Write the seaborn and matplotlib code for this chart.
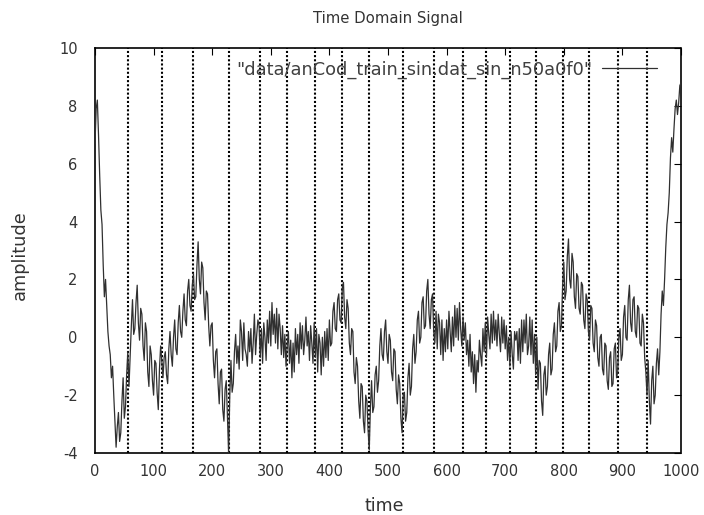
import matplotlib
matplotlib.use("Agg")
import matplotlib.pyplot as plt
import seaborn as sns
import pandas as pd

# ---- data -----------------------------------------------------------
time = list(range(0, 1001, 2))
amplitude = [
    6.7, 7.9, 8.2, 7.0, 5.6, 4.4, 3.9, 2.5, 1.4, 2.0,
    1.1, 0.2, -0.3, -0.6, -1.4, -1.0, -2.0, -2.9, -3.8, -3.1,
    -2.6, -3.6, -3.3, -2.2, -1.4, -2.8, -2.4, -1.3, -0.5, -1.7,
    -0.6, 0.4, 1.3, 0.1, 0.3, 1.2, 1.8, 0.5, -0.1, 1.0,
    0.8, -0.3, -0.8, 0.5, 0.2, -1.2, -1.7, -0.3, -0.6, -1.5,
    -2.0, -0.8, -0.9, -1.9, -2.5, -1.1, -0.3, -0.8, -1.4, -0.7,
    -0.5, -1.3, -1.6, -0.4, 0.2, -0.6, -1.0, 0.0, 0.6, -0.4,
    -0.6, 0.5, 1.1, 0.2, 0.0, 0.9, 1.5, 0.6, 0.4, 1.6,
    2.0, 1.1, 0.9, 1.8, 2.2, 1.3, 1.4, 2.5, 3.3, 2.0,
    1.5, 2.6, 2.4, 1.2, 0.6, 1.6, 1.5, 0.4, -0.3, 0.4,
    0.5, -0.8, -1.4, -0.5, -0.4, -1.6, -2.3, -1.2, -1.1, -2.5,
    -2.9, -1.8, -1.5, -2.8, -4.0, -2.0, -0.8, -1.9, -1.6, -0.5,
    0.1, -0.9, -0.3, -1.1, 0.6, 0.2, -0.8, 0.5, -0.4, -0.6,
    -1.0, 0.2, -0.5, 0.3, -0.9, -0.2, 0.8, -0.6, 0.1, 0.6,
    0.4, -0.7, 0.3, -0.9, 0.5, 0.0, -0.8, 0.6, -0.2, 0.9,
    -0.3, 1.2, 0.1, 0.8, -0.2, 1.0, -0.4, 0.8, 0.3, -0.6,
    0.4, -0.7, 0.1, -1.0, -0.3, 0.2, -0.9, -0.1, -1.4, -0.2,
    -1.2, 0.3, -0.6, 0.1, -0.9, 0.5, -0.4, 0.4, -0.6, -0.1,
    0.7, -0.3, 0.2, -0.8, 0.4, -0.2, -0.9, 0.5, -0.7, 0.3,
    -1.2, 0.1, -0.2, -1.3, 0.0, -1.0, 0.2, -0.7, 0.3, -0.8,
    0.6, -0.3, -0.2, 0.9, 1.2, 0.3, 0.2, 1.3, 1.5, 0.6,
    0.5, 1.7, 1.9, 0.7, 0.3, 1.3, 1.0, -0.2, -0.6, 0.3,
    0.2, -1.2, -1.6, -0.7, -1.0, -2.2, -2.8, -1.6, -1.7, -2.9,
    -3.3, -2.0, -2.2, -3.2, -3.9, -2.4, -1.5, -2.6, -2.4, -1.3,
    -1.0, -1.9, -1.5, -0.3, 0.3, -0.6, -0.8, 0.2, 0.6, -0.5,
    -0.9, 0.1, -0.1, -1.2, -1.5, -0.4, -0.5, -1.8, -2.3, -1.3,
    -1.6, -2.8, -3.3, -2.0, -1.9, -2.9, -2.6, -1.4, -0.9, -2.0,
    -1.7, -0.4, 0.1, -0.9, -0.5, 0.6, 0.9, -0.2, 0.0, 1.2,
    1.4, 0.3, 0.4, 1.6, 2.0, 0.8, 0.3, 1.3, 1.5, 0.2,
    -0.2, 0.9, -0.4, 0.8, 0.5, -0.6, 0.6, -0.8, 0.3, -0.5,
    0.6, -0.4, 0.9, 0.2, -0.5, 0.7, -0.3, 1.1, 0.0, 1.0,
    -0.1, 1.2, 0.3, -0.3, 0.7, -0.1, 0.5, -0.6, -0.1, -1.0,
    0.1, -1.2, -0.5, -1.6, -0.6, -1.9, -0.8, -1.2, -0.1, -0.6,
    -1.0, 0.3, -0.5, 0.5, -0.7, 0.7, 0.1, -0.4, 0.8, -0.2,
    0.9, -0.1, 0.6, -0.3, 0.8, 0.1, -0.5, 0.7, -0.2, 0.6,
    -0.4, 0.4, -0.8, 0.0, -1.0, 0.2, -0.6, -1.1, 0.2, -0.1,
    0.2, -0.8, 0.3, -0.9, 0.6, -0.5, 0.6, -0.2, 0.8, -0.6,
    -0.3, 0.7, -0.6, 0.6, -0.9, 0.1, -1.3, 0.0, -1.8, -0.8,
    -0.9, -2.2, -2.7, -1.3, -1.0, -2.0, -1.7, -0.6, -0.2, -1.3,
    -1.1, 0.1, 0.5, -0.5, -0.3, 0.9, 1.2, 0.2, 0.4, 1.8,
    2.6, 1.3, 1.6, 2.8, 3.4, 2.0, 1.7, 2.9, 2.6, 1.4,
    1.0, 2.2, 2.1, 1.0, 0.8, 1.9, 1.8, 0.6, 0.3, 1.5,
    1.3, 0.2, -0.1, 1.1, 1.0, -0.2, -0.5, 0.6, 0.4, -0.7,
    -1.0, 0.0, 0.1, -1.1, -1.3, -0.2, -0.3, -1.5, -1.8, -0.7,
    -0.5, -1.7, -1.6, -0.4, -0.2, -1.4, -1.2, 0.0, 0.3, -0.8,
    -0.6, 0.7, 1.1, 0.0, -0.1, 1.3, 1.8, 0.5, 0.2, 1.3,
    1.4, 0.2, 0.0, 1.1, 1.0, -0.2, -0.3, 0.8, 0.5, -0.7,
    -1.2, -2.0, -0.8, -2.2, -3.0, -1.5, -1.0, -2.3, -2.0, -0.9,
    -0.4, -1.3, -0.5, 0.8, 1.6, 1.1, 2.0, 3.1, 3.9, 4.3,
    5.0, 6.2, 6.9, 6.4, 7.2, 7.9, 8.2, 7.7, 8.1, 8.7,
    8.8,
]
markers = [57, 115, 168, 228, 282, 328, 375, 422, 468, 525,
           578, 628, 668, 708, 752, 798, 843, 892, 942]
x_ticks = [0, 100, 200, 300, 400, 500, 600, 700, 800, 900, 1000]
y_ticks = [-4, -2, 0, 2, 4, 6, 8, 10]
series_label = '"data/anCod_train_sin.dat_sin_n50a0f0"'

df = pd.DataFrame({"time": time, "amplitude": amplitude})

# ---- figure ---------------------------------------------------------
sns.set_style("white")
plt.rcParams["font.family"] = ["DejaVu Sans"]
plt.rcParams["axes.unicode_minus"] = False

fig = plt.figure(figsize=(7.04, 5.15), dpi=100)
ax = fig.add_axes([95 / 704, 1 - 453 / 515, (681 - 95) / 704, (453 - 48) / 515])

sns.lineplot(data=df, x="time", y="amplitude", ax=ax, color="#303030",
             linewidth=0.9, label=series_label, zorder=3)

for m in markers:
    ax.axvline(m, color="black", linestyle=(0, (1, 1)), linewidth=1.5, zorder=2)

ax.set_xlim(0, 1000)
ax.set_ylim(-4, 10)
ax.set_xticks(x_ticks)
ax.set_yticks(y_ticks)
ax.tick_params(direction="in", length=5, width=0.8, top=True, right=True,
               labelsize=10.5, labelcolor="#333333", color="black")
ax.tick_params(axis="x", pad=8)
ax.tick_params(axis="y", pad=12.5)
for s in ax.spines.values():
    s.set_linestyle((0, (1, 1)))
    s.set_linewidth(1.2)
    s.set_color("black")

ax.set_title("Time Domain Signal", fontsize=10.7, pad=18, color="#333333")
ax.set_xlabel("time", fontsize=12.5, color="#333333")
ax.set_ylabel("amplitude", fontsize=12.8, color="#333333")
ax.xaxis.set_label_coords(0.493, -0.108)
ax.yaxis.set_label_coords(-0.113, 0.489)

leg = ax.legend(loc="upper right", frameon=False, markerfirst=False,
                handlelength=3.1, fontsize=12.8, borderaxespad=0.3,
                handletextpad=0.55, bbox_to_anchor=(0.98, 1.0))
for t in leg.get_texts():
    t.set_color("#404040")

fig.savefig("out.png", dpi=100)
